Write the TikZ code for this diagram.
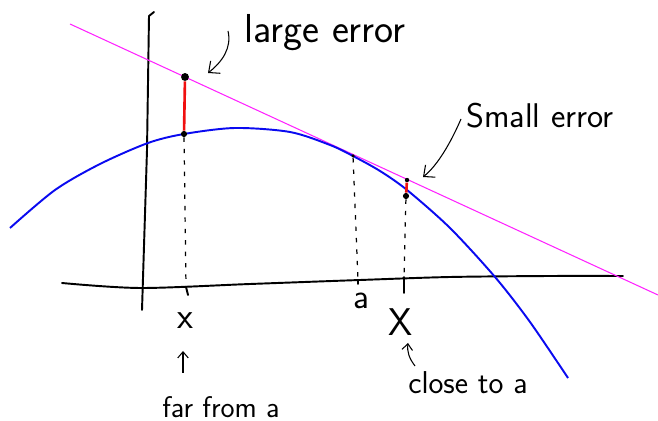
\documentclass[tikz,border=0pt]{standalone}
\usepackage{xcolor}
\definecolor{curveblue}{HTML}{0A0AF0}
\definecolor{tanmag}{HTML}{FF22FF}
\definecolor{errred}{HTML}{F01010}
\usetikzlibrary{arrows.meta,positioning}

\begin{document}
\begin{tikzpicture}[
  x=0.02cm, y=-0.02cm,
  hand/.style={font=\sffamily\fontsize{17}{19}\selectfont,inner sep=1pt},
  axis/.style={line width=1.1pt,line cap=round,line join=round},
  guide/.style={dash pattern=on 2.5pt off 4pt,line width=0.7pt},
  dot/.style={circle,fill=black,inner sep=0pt,minimum size=#1},
  err/.style={errred,line width=1.5pt},
  arrow/.style={-{Straight Barb[length=5pt,width=9pt]},line width=0.6pt},
  smallarrow/.style={-{Straight Barb[length=3.5pt,width=6pt]},line width=0.6pt}
]
  \useasboundingbox (0,0) rectangle (658,421);

  % Axes
  \draw[axis] (154,12) -- (149,16) -- (147,150) -- (142,310);
  \draw[axis] plot[smooth] coordinates {(62,283) (140,288) (250,284)
    (360,280) (450,277) (550,276) (623,276)};

  % Curve and tangent line at a
  \draw[tanmag,line width=0.6pt] (70,24) -- (658,295);
  \draw[curveblue,line width=1.1pt] plot[smooth] coordinates {(10,228) (55,190)
    (100,164) (148,143) (184,134) (235,128) (290,132) (330,145) (353,156)
    (380,171) (407,190) (450,228) (495,277) (530,322) (568,378)};

  % Points
  \node[dot=4.5pt] (tfar) at (185,77) {};
  \node[dot=3.5pt] (ffar) at (184,134) {};
  \node[dot=2pt] (tana) at (353,156) {};
  \node[dot=2.5pt] (tnear) at (407,180) {};
  \node[dot=3.5pt] (fnear) at (406,196) {};

  \coordinate (xfar) at (186,287);
  \coordinate (aaxis) at (358,280);
  \coordinate (xnear) at (404,277);

  % Errors
  \draw[err] (tfar) -- (ffar);
  \draw[err] (tnear) -- (fnear);

  % Guides down to the axis
  \draw[guide] (ffar) -- (xfar);
  \draw[guide] (tana) -- (aaxis);
  \draw[guide] (fnear) -- (xnear);

  % Ticks
  \draw[axis] (xfar) -- ++(2,8);
  \draw[axis] (aaxis) -- ++(0,4);
  \draw[axis] (xnear) -- ++(0,16);

  % Labels
  \node[hand,font=\sffamily\fontsize{21}{23}\selectfont] (xfarlbl) at (185,321) {x};
  \node[hand,font=\sffamily\fontsize{22}{24}\selectfont] (xnearlbl) at (401,322) {X};
  \node[hand,font=\sffamily\fontsize{20}{22}\selectfont] (albl) at (361,301) {a};
  \node[hand,font=\sffamily\fontsize{23}{25}\selectfont] (lgerr) at (325,33) {large error};
  \node[hand,font=\sffamily\fontsize{19.5}{21}\selectfont] (smerr) at (540,116) {Small error};
  \node[hand] (farlbl) at (221,407) {far from a};
  \node[hand,font=\sffamily\fontsize{18}{20}\selectfont] (closelbl) at (468,383) {close to a};

  % Pointers
  \coordinate (lgstart) at (228,31);
  \coordinate (lgtip) at (208,73);
  \draw[arrow] (lgstart) .. controls (232,48) and (222,62) .. (lgtip);
  \coordinate (smstart) at (461,119);
  \coordinate (smtip) at (423,177);
  \draw[arrow] (smstart) .. controls (451,142) and (438,165) .. (smtip);
  \coordinate (farbot) at (183,373);
  \coordinate (fartop) at (183,351);
  \draw[smallarrow] (farbot) -- (fartop);
  \coordinate (closebot) at (415,366);
  \coordinate (closetop) at (408,343);
  \draw[smallarrow] (closebot) .. controls (409,358) and (407,352) .. (closetop);
\end{tikzpicture}
\end{document}
